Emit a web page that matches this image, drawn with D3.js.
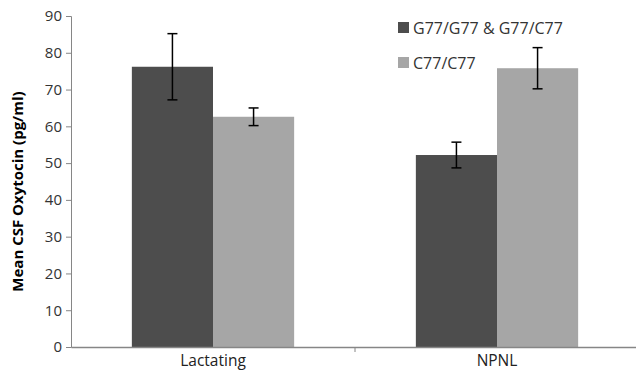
<!DOCTYPE html>
<html>
<head>
<meta charset="utf-8">
<script src="https://cdn.jsdelivr.net/npm/d3@7"></script>
<style>
  body { margin: 0; background: #fff; }
  svg text { font-family: "Open Sans", sans-serif; }
</style>
</head>
<body>
<div id="chart"></div>
<script>
var categories = ["Lactating", "NPNL"];
var seriesNames = ["G77/G77 & G77/C77", "C77/C77"];
var seriesColors = ["#4d4d4d", "#a6a6a6"];
var means = [[76.2, 52.2], [62.6, 75.8]];   // [series][category]
var errors = [[9.0, 3.5], [2.4, 5.6]];
var yTicks = [0, 10, 20, 30, 40, 50, 60, 70, 80, 90];

var width = 636;
var height = 373;
var padding = { top: 16, right: -3, bottom: 26, left: 71 };

var svg = d3.select('#chart')
    .append('svg')
    .attr('width', width)
    .attr('height', height);

var xScale = d3.scaleBand()
    .domain(categories)
    .range([padding.left, width - padding.right])
    .paddingInner(0)
    .paddingOuter(0);

var xInner = d3.scaleBand()
    .domain(seriesNames)
    .range([0, xScale.bandwidth()])
    .paddingOuter(0.75)
    .paddingInner(0);

var yScale = d3.scaleLinear()
    .domain([0, 90])
    .range([height - padding.bottom, padding.top]);

// y axis
var yAxis = d3.axisLeft(yScale)
    .tickValues(yTicks)
    .tickSize(5)
    .tickPadding(4);

var yG = svg.append('g')
    .attr('transform', 'translate(' + padding.left + ',0)')
    .call(yAxis);
yG.select('.domain').attr('stroke', '#868686');
yG.selectAll('.tick line').attr('stroke', '#868686');
yG.selectAll('.tick text')
    .attr('fill', '#333')
    .style('font-size', '15px');

// bars
var groups = svg.append('g').selectAll('g')
    .data(seriesNames)
    .enter()
    .append('g');

groups.each(function(s, si) {
    var g = d3.select(this);
    categories.forEach(function(c, ci) {
        var x0 = xScale(c) + xInner(s);
        var v = means[si][ci];
        g.append('rect')
            .attr('x', x0)
            .attr('y', yScale(v))
            .attr('width', xInner.bandwidth())
            .attr('height', yScale(0) - yScale(v))
            .attr('fill', seriesColors[si]);
        // error bar
        var cx = x0 + xInner.bandwidth() / 2;
        var e = errors[si][ci];
        g.append('line')
            .attr('x1', cx).attr('x2', cx)
            .attr('y1', yScale(v + e)).attr('y2', yScale(v - e))
            .attr('stroke', '#000').attr('stroke-width', 1.5);
        [v + e, v - e].forEach(function(yv) {
            g.append('line')
                .attr('x1', cx - 5).attr('x2', cx + 5)
                .attr('y1', yScale(yv)).attr('y2', yScale(yv))
                .attr('stroke', '#000').attr('stroke-width', 1.5);
        });
    });
});

// x axis
var xAxis = d3.axisBottom(xScale)
    .tickSize(0)
    .tickPadding(8);

var xG = svg.append('g')
    .attr('transform', 'translate(0,' + yScale(0) + ')')
    .call(xAxis);
xG.select('.domain').attr('stroke', '#868686').attr('stroke-width', 1.5);
xG.selectAll('.tick text')
    .attr('fill', '#222')
    .style('font-size', '15.5px');
// category divider tick
xG.append('line')
    .attr('x1', xScale(categories[1])).attr('x2', xScale(categories[1]))
    .attr('y1', 0).attr('y2', 5)
    .attr('stroke', '#868686');

// y axis label
svg.append('text')
    .attr('transform', 'translate(23,' + ((yScale(0) + yScale(90)) / 2 + 10) + ') rotate(-90)')
    .style('text-anchor', 'middle')
    .style('font-size', '15px')
    .style('font-weight', 'bold')
    .attr('fill', '#000')
    .text('Mean CSF Oxytocin  (pg/ml)');

// legend
var legend = svg.append('g')
    .attr('transform', 'translate(398,22)');
seriesNames.forEach(function(s, i) {
    legend.append('rect')
        .attr('x', 0)
        .attr('y', i * 35)
        .attr('width', 11)
        .attr('height', 11)
        .attr('fill', seriesColors[i]);
    legend.append('text')
        .attr('x', 15)
        .attr('y', i * 35 + 12)
        .style('font-size', '16px')
        .attr('fill', '#333')
        .text(s);
});
</script>
</body>
</html>
